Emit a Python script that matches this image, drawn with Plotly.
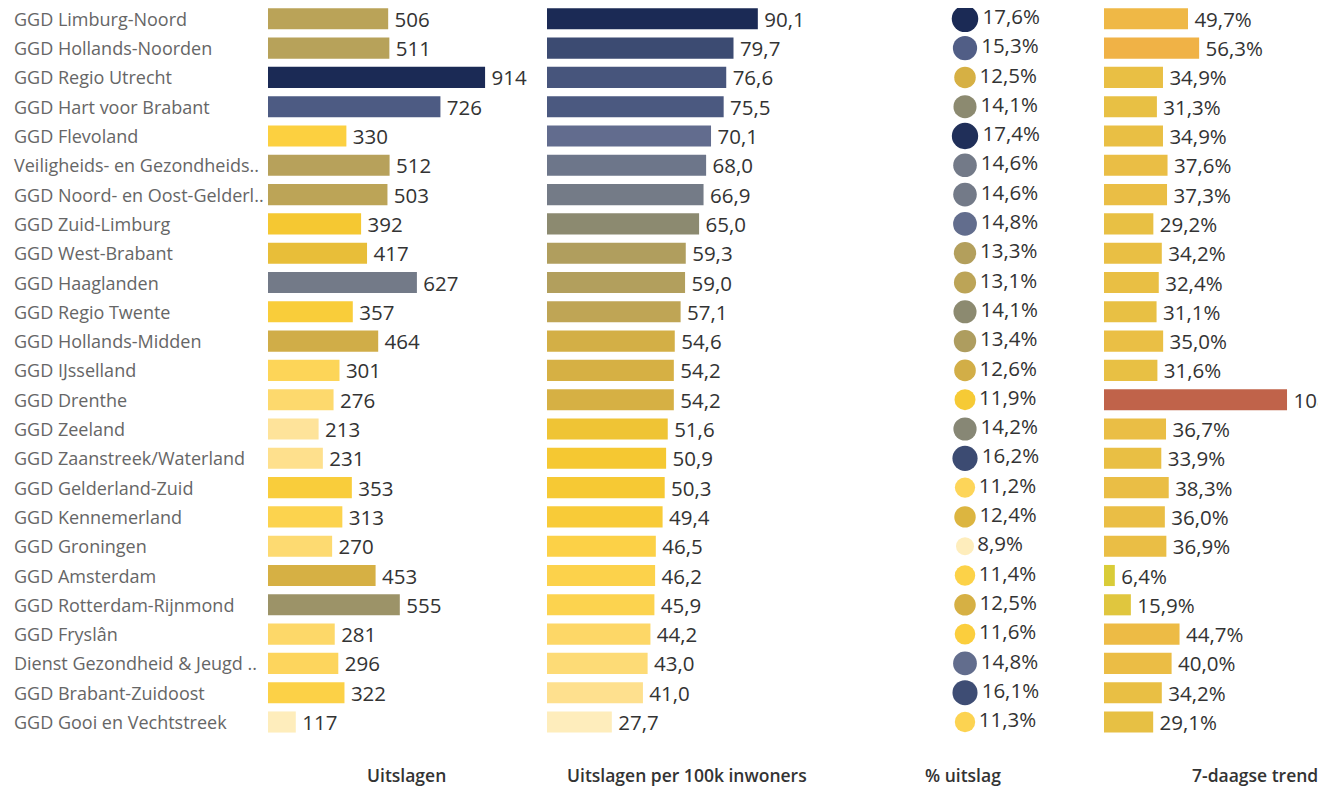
import plotly.graph_objects as go

# ---------------- data ----------------
regions = [
    "GGD Limburg-Noord", "GGD Hollands-Noorden", "GGD Regio Utrecht", "GGD Hart voor Brabant",
    "GGD Flevoland", "Veiligheids- en Gezondheids..", "GGD Noord- en Oost-Gelderl..",
    "GGD Zuid-Limburg", "GGD West-Brabant", "GGD Haaglanden", "GGD Regio Twente",
    "GGD Hollands-Midden", "GGD IJsselland", "GGD Drenthe", "GGD Zeeland",
    "GGD Zaanstreek/Waterland", "GGD Gelderland-Zuid", "GGD Kennemerland", "GGD Groningen",
    "GGD Amsterdam", "GGD Rotterdam-Rijnmond", "GGD Fryslân", "Dienst Gezondheid & Jeugd ..",
    "GGD Brabant-Zuidoost", "GGD Gooi en Vechtstreek",
]
uitslagen = [506, 511, 914, 726, 330, 512, 503, 392, 417, 627, 357, 464, 301, 276, 213,
             231, 353, 313, 270, 453, 555, 281, 296, 322, 117]
per100k = [90.1, 79.7, 76.6, 75.5, 70.1, 68.0, 66.9, 65.0, 59.3, 59.0, 57.1, 54.6, 54.2, 54.2,
           51.6, 50.9, 50.3, 49.4, 46.5, 46.2, 45.9, 44.2, 43.0, 41.0, 27.7]
pct_uitslag = [17.6, 15.3, 12.5, 14.1, 17.4, 14.6, 14.6, 14.8, 13.3, 13.1, 14.1, 13.4, 12.6, 11.9,
               14.2, 16.2, 11.2, 12.4, 8.9, 11.4, 12.5, 11.6, 14.8, 16.1, 11.3]
trend7 = [49.7, 56.3, 34.9, 31.3, 34.9, 37.6, 37.3, 29.2, 34.2, 32.4, 31.1, 35.0, 31.6, 108.3,
          36.7, 33.9, 38.3, 36.0, 36.9, 6.4, 15.9, 44.7, 40.0, 34.2, 29.1]
titles = ["Uitslagen", "Uitslagen per 100k inwoners", "% uitslag", "7-daagse trend"]

# ---------------- styling ----------------
OFF = 8                      # page body margin
W, H = 1335 - OFF, 790 - OFF
ROW = 29.3                   # row pitch in px
ROW0 = 18.8 - OFF            # centre of first row (figure px)
PLOT_BOTTOM = 737 - OFF      # bottom of plot area (figure px)
MT, MB = 0, H - PLOT_BOTTOM
FONT = "Open Sans"
LABEL_COLOR = "#666666"
VALUE_COLOR = "#333333"
VAL_SIZE = 20.5
GAP = "\u2009"               # thin space between bar end and its label

palette = ["#feedbc", "#fee39a", "#fdd86a", "#fcd040", "#f5c832", "#d6b044",
           "#b8a25a", "#8c8a70", "#737a88", "#5a6690", "#45547a", "#1b2a55"]


def make_scale(breaks, colors):
    lo, hi = breaks[0], breaks[-1]
    return [[(b - lo) / (hi - lo), c] for b, c in zip(breaks, colors)], lo, hi


scale1 = make_scale([117, 213, 280, 330, 392, 453, 510, 580, 627, 690, 750, 914], palette)
scale2 = make_scale([27.7, 40, 44, 47, 51, 54.2, 58, 65, 67, 71.5, 77, 90.1], palette)
scale3 = make_scale([8.9, 10.2, 11.0, 11.5, 12.0, 12.5, 13.2, 14.1, 14.6, 14.9, 15.8, 17.6], palette)
scale4 = make_scale([6.4, 16, 30, 40, 50, 56.3, 108.3],
                    ["#d9cc38", "#e0c63e", "#e8c044", "#ebbd45", "#efb846", "#f0b246", "#c0634a"])


def px(x):
    return (x - OFF) / W


def comma(v, fmt="{:.1f}"):
    return fmt.format(v).replace(".", ",")


fig = go.Figure()

# panel 1
fig.add_trace(go.Bar(
    y=regions, x=uitslagen, orientation="h", xaxis="x", yaxis="y",
    marker=dict(color=uitslagen, colorscale=scale1[0], cmin=scale1[1], cmax=scale1[2], line_width=0),
    text=[GAP + str(v) for v in uitslagen], textposition="outside", constraintext="none",
    cliponaxis=False,
    textfont=dict(family=FONT, size=VAL_SIZE, color=VALUE_COLOR), hoverinfo="skip",
))
# panel 2
fig.add_trace(go.Bar(
    y=regions, x=per100k, orientation="h", xaxis="x2", yaxis="y",
    marker=dict(color=per100k, colorscale=scale2[0], cmin=scale2[1], cmax=scale2[2], line_width=0),
    text=[GAP + comma(v) for v in per100k], textposition="outside", constraintext="none",
    cliponaxis=False,
    textfont=dict(family=FONT, size=VAL_SIZE, color=VALUE_COLOR), hoverinfo="skip",
))
# panel 3 (dots)
pmin = min(pct_uitslag)
sizes = [18 + (v - pmin) * 0.98 for v in pct_uitslag]
fig.add_trace(go.Scatter(
    y=regions, x=[0] * len(regions), xaxis="x3", yaxis="y", mode="markers+text",
    marker=dict(color=pct_uitslag, colorscale=scale3[0], cmin=scale3[1], cmax=scale3[2],
                size=sizes, line_width=0, opacity=1),
    text=[comma(v) + "%" for v in pct_uitslag], textposition="middle right",
    cliponaxis=False,
    textfont=dict(family=FONT, size=VAL_SIZE, color=VALUE_COLOR), hoverinfo="skip",
))
# panel 4 (text clipped at the right edge, as in the dashboard)
fig.add_trace(go.Bar(
    y=regions, x=trend7, orientation="h", xaxis="x4", yaxis="y",
    marker=dict(color=trend7, colorscale=scale4[0], cmin=scale4[1], cmax=scale4[2], line_width=0),
    text=[GAP + comma(v) + "%" for v in trend7], textposition="outside", constraintext="none",
    cliponaxis=True,
    textfont=dict(family=FONT, size=VAL_SIZE, color=VALUE_COLOR), hoverinfo="skip",
))

y_top = -ROW0 / ROW
y_bot = y_top + (PLOT_BOTTOM - MT) / ROW

common_x = dict(showgrid=False, zeroline=False, showticklabels=False, showline=False, fixedrange=True)
fig.update_layout(
    width=W, height=H,
    margin=dict(l=0, r=0, t=MT, b=MB, pad=0),
    paper_bgcolor="white", plot_bgcolor="white",
    showlegend=False, bargap=0.28,
    font=dict(family=FONT),
    xaxis=dict(domain=[px(268), px(545)], range=[0, 277 / 0.2375], **common_x),
    xaxis2=dict(domain=[px(547), px(900)], range=[0, 353 / 2.34], **common_x),
    xaxis3=dict(domain=[px(930), px(1090)], range=[-35, 125], **common_x),
    xaxis4=dict(domain=[px(1104), px(1318)], range=[0, 214 / 1.69], **common_x),
    yaxis=dict(range=[y_bot, y_top], showticklabels=False, showgrid=False, zeroline=False,
               showline=False, fixedrange=True),
)

# category labels (left aligned)
for r in regions:
    fig.add_annotation(x=px(12), xref="paper", y=r, yref="y", text=r, showarrow=False,
                       xanchor="left", yanchor="middle",
                       font=dict(family=FONT, size=18, color=LABEL_COLOR))

# bottom titles
plot_h = H - MT - MB
title_y = (H - MB - (775 - OFF)) / plot_h
for t, cx in zip(titles, [406, 687, 963, 1255]):
    fig.add_annotation(x=px(cx), xref="paper", y=title_y, yref="paper", text=t, showarrow=False,
                       xanchor="center", yanchor="middle",
                       font=dict(family=FONT, size=17.5, color="#333333", weight=600))

fig.write_html("out.html")
